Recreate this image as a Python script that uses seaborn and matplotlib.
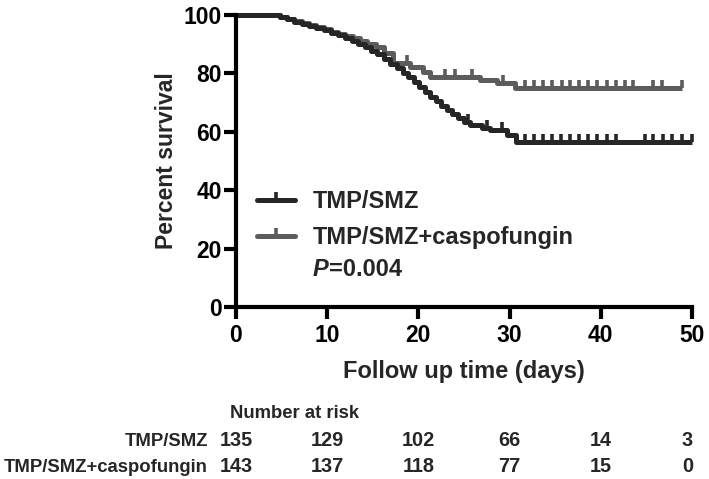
import numpy as np
import pandas as pd
import matplotlib
matplotlib.use("Agg")
import matplotlib.pyplot as plt
from matplotlib.lines import Line2D
import matplotlib.transforms as mtransforms
import seaborn as sns

# ---------------- data ----------------
groups = ["TMP/SMZ", "TMP/SMZ+caspofungin"]

# step-function survival (day at which value starts, percent survival)
tmp_days = [0, 4.8, 5.6, 6.4, 7.2, 8.0, 8.8, 9.6, 10.4, 11.2, 12.0, 12.7, 13.4,
            14.1, 14.8, 15.5, 16.2, 16.9, 17.6, 18.3, 18.9, 19.5, 20.1, 20.7,
            21.3, 21.9, 22.5, 23.1, 23.7, 24.3, 25.0, 25.7, 27.0, 27.9, 29.7,
            30.7, 50.0]
tmp_surv = [100, 99.2, 98.5, 97.7, 97.0, 96.2, 95.5, 94.7, 93.9, 93.0, 92.1,
            91.1, 90.1, 89.0, 87.8, 86.5, 85.0, 83.3, 81.8, 80.3, 78.6, 77.0,
            75.3, 73.6, 72.0, 70.4, 68.9, 67.4, 66.0, 64.7, 63.4, 62.3, 61.3,
            60.5, 58.9, 56.5, 56.5]
tmp_censor = [25.4, 27.5, 29.2, 31.7, 32.7, 33.7, 34.6, 35.6, 36.6, 37.6,
              38.6, 39.6, 40.7, 41.7, 44.8, 45.7, 46.8, 47.8, 48.9, 50.0]

cas_days = [0, 4.8, 5.6, 6.4, 7.2, 8.0, 8.8, 9.6, 10.4, 11.2, 12.0, 12.8, 13.6,
            14.4, 15.3, 16.2, 17.2, 19.1, 20.5, 21.3, 26.8, 28.6, 30.6, 48.9]
cas_surv = [100, 99.3, 98.6, 97.9, 97.2, 96.5, 95.8, 95.1, 94.3, 93.5, 92.8,
            92.0, 91.2, 90.2, 89.2, 87.0, 83.6, 82.2, 80.5, 78.8, 77.7, 76.7,
            75.0, 75.0]
cas_censor = [18.7, 22.9, 24.0, 25.9, 29.3, 31.7, 32.7, 33.7, 34.6, 35.7, 36.6,
              37.6, 38.6, 39.6, 40.7, 41.7, 42.7, 43.5, 45.7, 46.7, 48.9]

risk_times = [0, 10, 20, 30, 40, 50]
risk_tmp = [135, 129, 102, 66, 14, 3]
risk_cas = [143, 137, 118, 77, 15, 0]

x_ticks = [0, 10, 20, 30, 40, 50]
y_ticks = [0, 20, 40, 60, 80, 100]
p_value = "0.004"

# ---------------- style ----------------
sns.set_style("ticks")
plt.rcParams["font.family"] = ["Liberation Sans", "DejaVu Sans"]
plt.rcParams["font.weight"] = "bold"

colors = {"TMP/SMZ": "#262626", "TMP/SMZ+caspofungin": "#5c5c5c"}
LW = 3.6

W, H = 709, 479
fig = plt.figure(figsize=(W / 100, H / 100), dpi=100)
fig.patch.set_facecolor("white")
ax = fig.add_axes([236 / W, 1 - 307 / H, (692 - 236) / W, (307 - 15) / H])

df = pd.concat([
    pd.DataFrame({"day": tmp_days, "pct": tmp_surv, "group": groups[0]}),
    pd.DataFrame({"day": cas_days, "pct": cas_surv, "group": groups[1]}),
], ignore_index=True)

sns.lineplot(data=df, x="day", y="pct", hue="group", palette=colors,
             hue_order=groups[::-1], drawstyle="steps-post", estimator=None,
             sort=False, linewidth=LW, legend=False, ax=ax, clip_on=False,
             solid_capstyle="butt")


def step_value(days, surv, t):
    idx = np.searchsorted(np.asarray(days), t, side="right") - 1
    return np.asarray(surv)[idx]


for g, days, surv, cens in [(groups[1], cas_days, cas_surv, cas_censor),
                            (groups[0], tmp_days, tmp_surv, tmp_censor)]:
    ax.plot(cens, [step_value(days, surv, t) for t in cens], linestyle="none",
            marker=2, markersize=5.5, markeredgewidth=2.6, color=colors[g],
            clip_on=False)

ax.set_xlim(0, 50)
ax.set_ylim(0, 100)
ax.set_xticks(x_ticks)
ax.set_yticks(y_ticks)
for s in ["top", "right"]:
    ax.spines[s].set_visible(False)
for s in ["left", "bottom"]:
    ax.spines[s].set_linewidth(3.0)
    ax.spines[s].set_color("black")
ax.tick_params(axis="both", width=3.0, length=8.5, color="black",
               labelsize=16.5, labelcolor="black")
ax.tick_params(axis="y", pad=1.5)
ax.tick_params(axis="x", pad=4)
for lab in ax.get_xticklabels() + ax.get_yticklabels():
    lab.set_fontweight("bold")

ax.set_xlabel("Follow up time (days)", fontsize=17, fontweight="bold",
              labelpad=9)
ax.set_ylabel("Percent survival", fontsize=16.5, fontweight="bold",
              labelpad=4)

# legend
handles = [Line2D([], [], color=colors[g], lw=LW, marker=2, markersize=5.5,
                  markeredgewidth=2.6) for g in groups]
leg = ax.legend(handles, groups, loc="upper left",
                bbox_to_anchor=(257 / W, 1 - 190 / H),
                bbox_transform=fig.transFigure, frameon=False,
                prop={"size": 17, "weight": "bold"}, handlelength=1.6,
                handletextpad=0.75, labelspacing=0.55, borderpad=0,
                borderaxespad=0, numpoints=1)

# P value
fig.canvas.draw()
renderer = fig.canvas.get_renderer()
pt = fig.text(313 / W, 1 - 276 / H, "P", fontsize=17, fontweight="bold",
              fontstyle="italic", va="baseline", ha="left")
fig.canvas.draw()
bb = pt.get_window_extent(renderer)
fig.text(bb.x1 / W, 1 - 276 / H, "=" + p_value, fontsize=17,
         fontweight="bold", va="baseline", ha="left")

# number at risk table
TS = 13.3
fig.text(230 / W, 1 - 414 / H, "Number at risk", fontsize=TS,
         fontweight="bold", va="center", ha="left")
row_y = [441, 467]
trans = mtransforms.blended_transform_factory(ax.transData, fig.transFigure)
for name, vals, yy in [(groups[0], risk_tmp, row_y[0]),
                       (groups[1], risk_cas, row_y[1])]:
    fig.text(208 / W, 1 - yy / H, name, fontsize=TS, fontweight="bold",
             va="center", ha="right")
    for t, v in zip(risk_times, vals):
        ax.text(t - 0.5 if t == 50 else t, 1 - yy / H, str(v), transform=trans,
                fontsize=TS + 1, fontweight="bold", va="center", ha="center",
                clip_on=False)

fig.savefig("out.png", dpi=100, facecolor="white")
